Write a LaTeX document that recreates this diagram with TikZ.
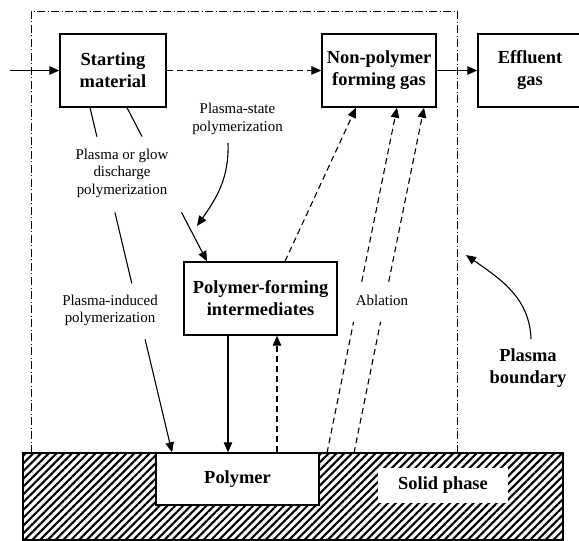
\documentclass[tikz,border=0pt]{standalone}
\usepackage{fontspec}
\setmainfont{Liberation Serif}
\usetikzlibrary{arrows.meta,calc,patterns.meta}
\begin{document}
\begin{tikzpicture}[x=1bp,y=-1bp,
  box/.style={draw,line width=1.4bp,fill=white,font=\bfseries\fontsize{18.5}{22}\selectfont,align=center,inner sep=0pt},
  lbl/.style={font=\fontsize{15}{17.5}\selectfont,align=center,inner sep=0pt},
  arr/.style={-{Triangle[length=10bp,width=8.5bp]}},
  con/.style={line width=1.1bp},
  dsh/.style={dash pattern=on 6bp off 4bp},
  bnd/.style={line width=0.8bp,dash pattern=on 8bp off 2.5bp on 1bp off 2.5bp}]
\useasboundingbox (0,0) rectangle (579,541);
% plasma boundary
\draw[bnd] (31,453) -- (31,11) -- (457,11) -- (457,453);
% solid phase
\path[pattern={Lines[angle=45,distance=5.5bp,line width=2.1bp]}] (23,453) rectangle (563,540);
\draw[line width=1.4bp] (23,453) rectangle (563,540);
% boxes
\node[box,minimum width=106bp,minimum height=73bp] (sm) at (113,70.5) {Starting\\material};
\node[box,minimum width=114bp,minimum height=73bp] (npg) at (379,70.5) {Non-polymer\\forming gas};
\node[box,minimum width=104bp,minimum height=73bp] (eff) at (530,70.5) {Effluent\\gas};
\node[box,minimum width=153bp,minimum height=73bp] (pfi) at (260.5,298.5) {Polymer-forming\\intermediates};
\node[box,minimum width=163bp,minimum height=52bp] (poly) at (237.5,479) {Polymer};
\node[box,draw=none,minimum width=130bp,minimum height=35bp] (sp) at (443,485.5) {Solid phase};
% labels
\node[lbl] (l1) at (122,173) {Plasma or glow\\discharge\\polymerization};
\node[lbl] (l2) at (237.5,119) {Plasma-state\\polymerization};
\node[lbl] (l3) at (110,310.5) {Plasma-induced\\polymerization};
\node[lbl] (l4) at (382,300) {Ablation};
\node[box,draw=none,fill=none] (l5) at (528,368.5) {Plasma\\boundary};
% coordinates
\coordinate (in) at (10,70.5);
\coordinate (A1) at ($(sm.south)+(-23,0)$);
\coordinate (A2) at ($(poly.north)+(-65.5,0)$);
\coordinate (B1) at ($(sm.south)+(14,0)$);
\coordinate (B2) at ($(pfi.north)+(-53.5,0)$);
\coordinate (C1) at (327,453);
\coordinate (C2) at ($(npg.south)+(18,0)$);
\coordinate (D1) at (354,453);
\coordinate (D2) at ($(npg.south)+(45,0)$);
\coordinate (ps1) at (228,143);
\coordinate (ps2) at (197,226);
\coordinate (pb1) at (531,339);
\coordinate (pb2) at (466,255);
% connectors
\draw[con,arr] (in) -- (sm.west);
\draw[con,dsh,arr] (sm.east) -- (npg.west);
\draw[con,arr] (npg.east) -- (eff.west);
\draw[con] (A1) -- ($(A1)!0.084!(A2)$);
\draw[con] ($(A1)!0.304!(A2)$) -- ($(A1)!0.51!(A2)$);
\draw[con,arr] ($(A1)!0.672!(A2)$) -- (A2);
\draw[con] (B1) -- ($(B1)!0.188!(B2)$);
\draw[con,arr] ($(B1)!0.682!(B2)$) -- (B2);
\draw[con,arr] (ps1) to[out=-88,in=55] (ps2);
\draw[con,arr] ($(pfi.south)+(-32.5,0)$) -- ($(poly.north)+(-9.5,0)$);
\draw[con,dsh,arr] ($(poly.north)+(39.5,0)$) -- ($(pfi.south)+(16.5,0)$);
\draw[con,dsh,arr] ($(pfi.north)+(24.5,0)$) -- ($(npg.south)+(-23,0)$);
\draw[con,dsh] (C1) -- ($(C1)!0.38!(C2)$);
\draw[con,dsh,arr] ($(C1)!0.496!(C2)$) -- (C2);
\draw[con,dsh] (D1) -- ($(D1)!0.38!(D2)$);
\draw[con,dsh,arr] ($(D1)!0.496!(D2)$) -- (D2);
\draw[con,arr] (pb1) to[out=92,in=-35] (pb2);
\end{tikzpicture}
\end{document}
